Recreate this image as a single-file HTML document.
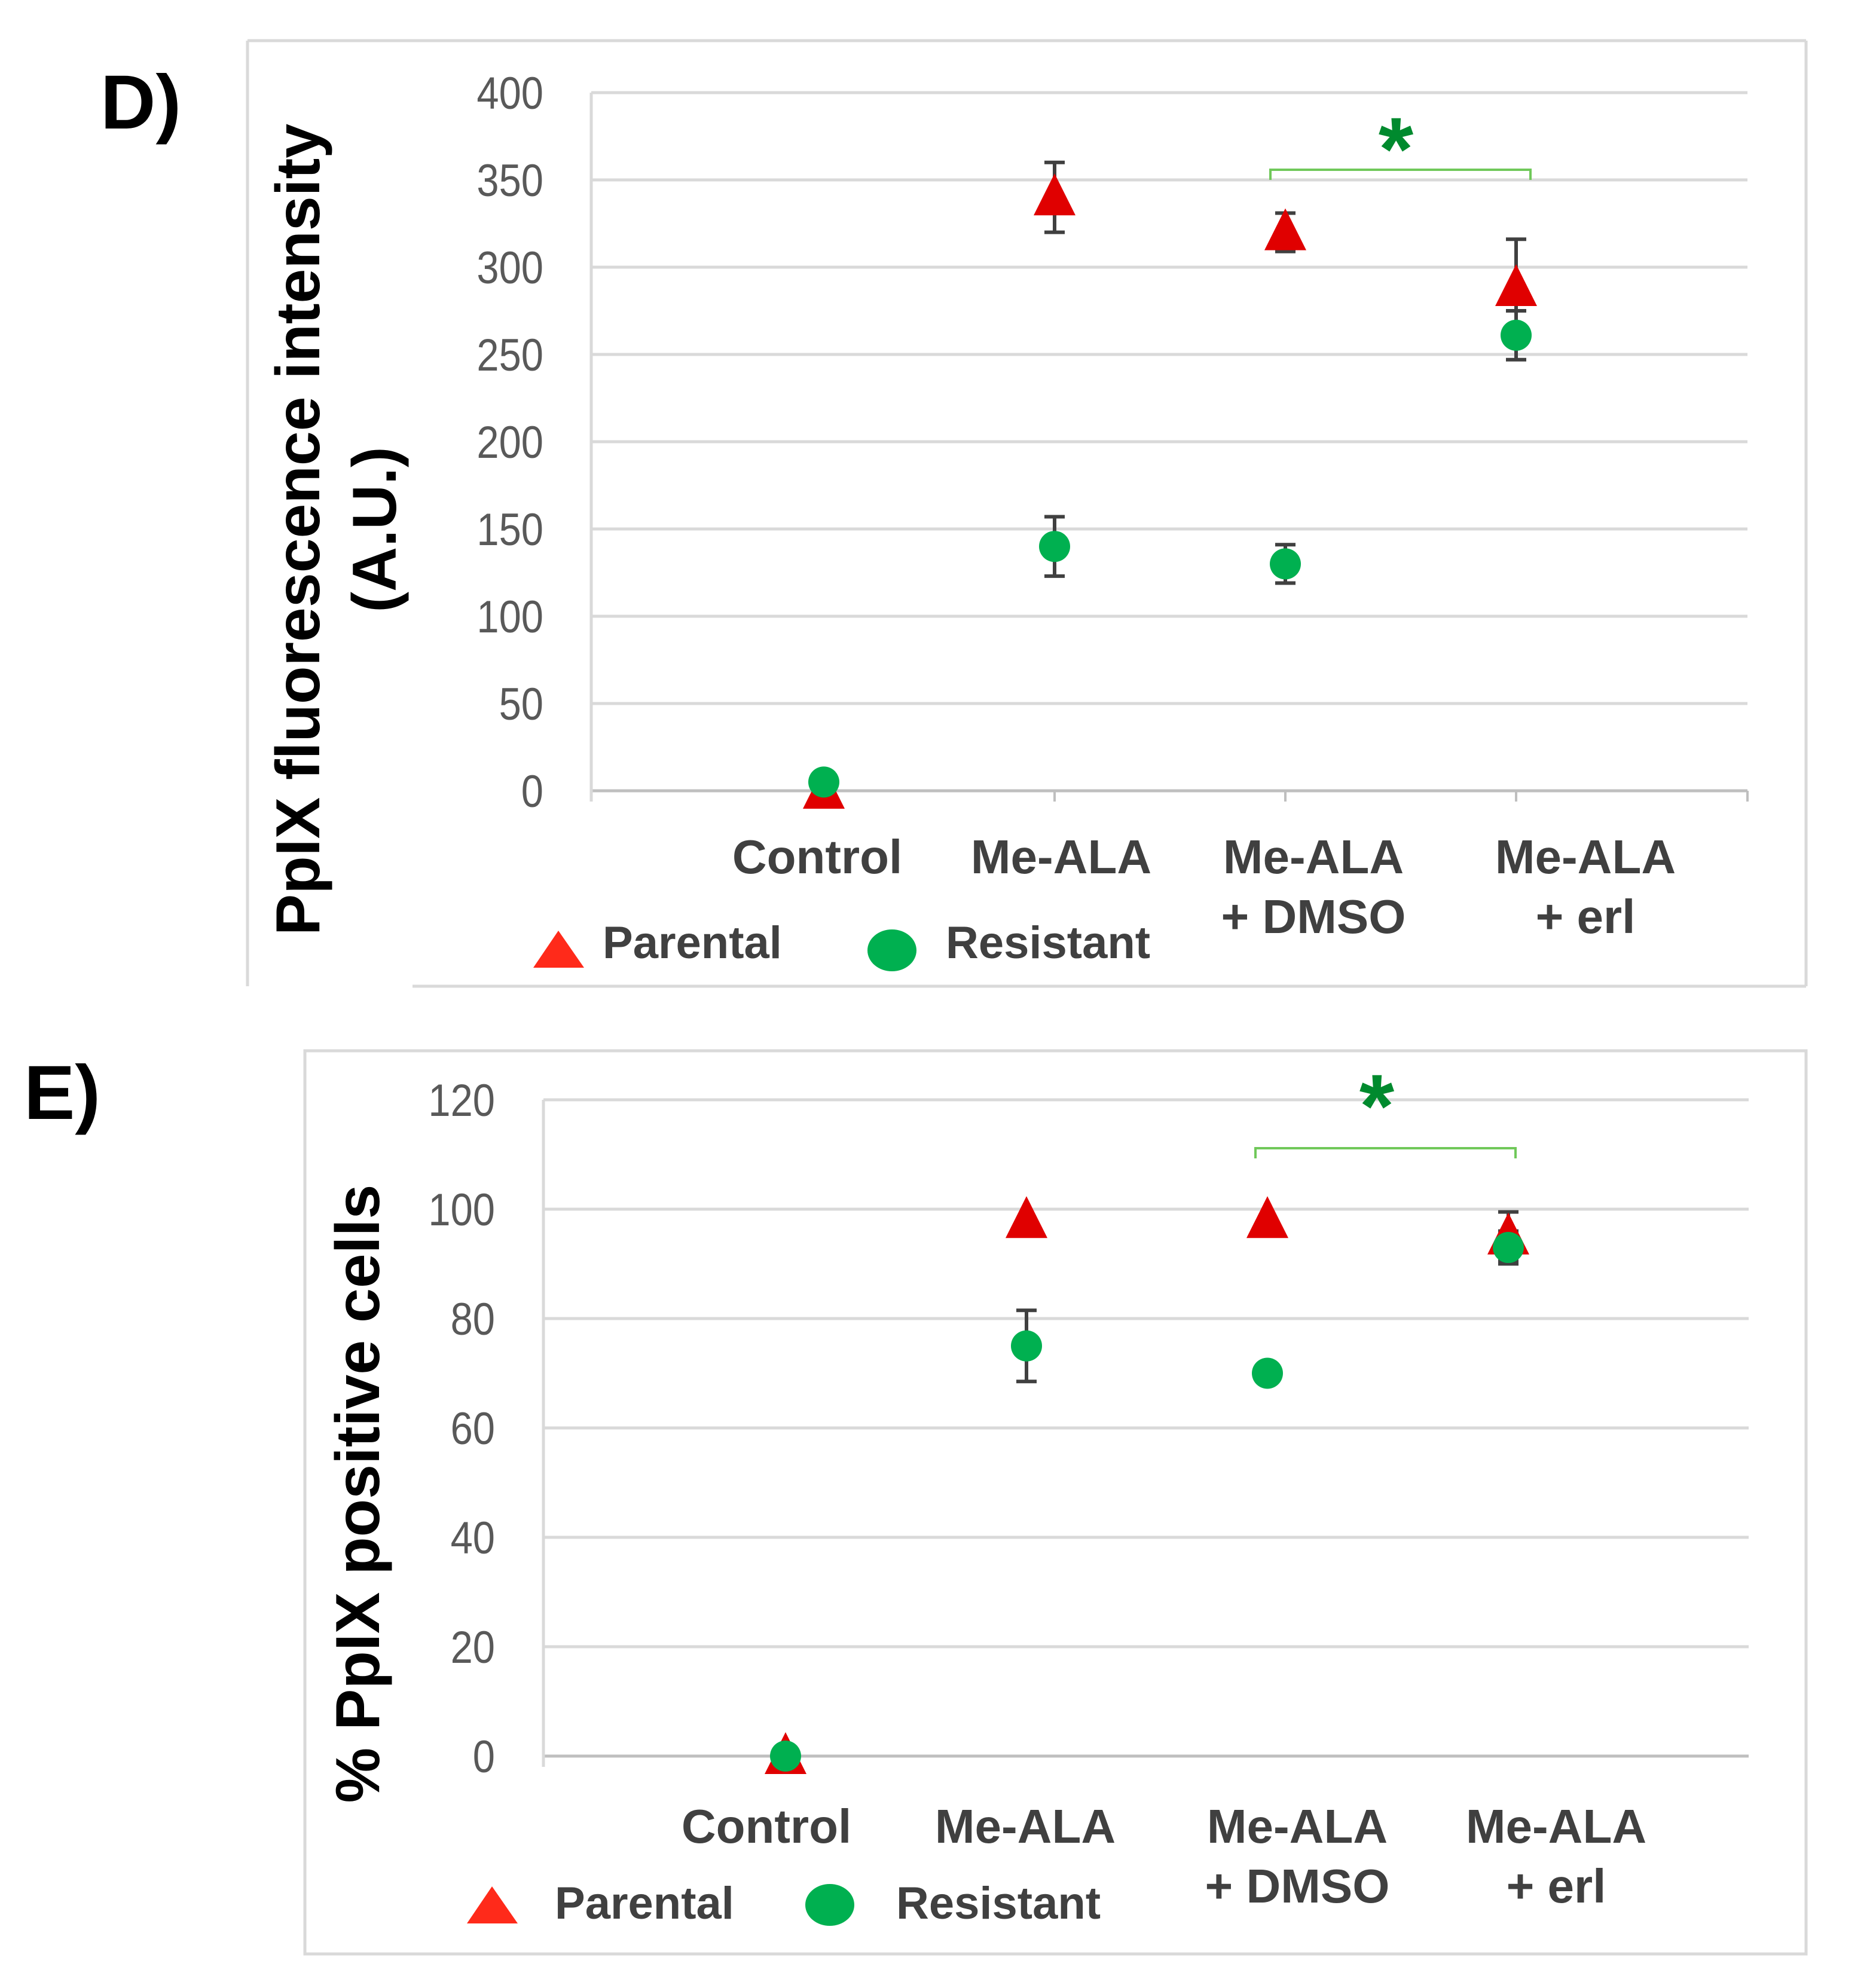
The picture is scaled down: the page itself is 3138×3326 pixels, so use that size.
<!DOCTYPE html>
<html><head><meta charset="utf-8"><style>
html,body{margin:0;padding:0;background:#fff;}
svg{display:block;}
text{font-family:"Liberation Sans",sans-serif;}
</style></head><body>
<svg id="fig" width="3138" height="3326" viewBox="0 0 3138 3326" xmlns="http://www.w3.org/2000/svg">
<line x1="414" y1="68" x2="3021" y2="68" stroke="#d9d9d9" stroke-width="5"/>
<line x1="414" y1="68" x2="414" y2="1650" stroke="#d9d9d9" stroke-width="5"/>
<line x1="3021" y1="68" x2="3021" y2="1650" stroke="#d9d9d9" stroke-width="5"/>
<line x1="690" y1="1650" x2="3021" y2="1650" stroke="#d9d9d9" stroke-width="5"/>
<rect x="510" y="1758" width="2511" height="1511" fill="none" stroke="#d9d9d9" stroke-width="5"/>
<text x="168" y="215" font-size="128" font-weight="bold" fill="#000">D)</text>
<text x="40" y="1872" font-size="128" font-weight="bold" fill="#000">E)</text>
<g id="chartD"></g>
<g id="chartE"></g>
</svg>
<script>
const categories = ["Control", "Me-ALA", "Me-ALA|+ DMSO", "Me-ALA|+ erl"];
const dParental = [0, 340, 320, 288];
const dParentalErr = [0, 20, 11, 28];
const dResistant = [5, 140, 130, 261];
const dResistantErr = [0, 17, 11, 14];
const dTicks = [0, 50, 100, 150, 200, 250, 300, 350, 400];
const eParental = [0, 98, 98, 95];
const eParentalErr = [0, 0, 0, 4.5];
const eResistant = [0, 75, 70, 93];
const eResistantErr = [0, 6.5, 0, 3];
const eTicks = [0, 20, 40, 60, 80, 100, 120];

const NS = "http://www.w3.org/2000/svg";
function mk(parent, tag, attrs, txt) {
  const el = document.createElementNS(NS, tag);
  for (const k in attrs) el.setAttribute(k, attrs[k]);
  if (txt !== undefined) el.textContent = txt;
  parent.appendChild(el);
  return el;
}

function drawChart(g, cfg) {
  const yScale = v => cfg.y0 - (v - cfg.ticks[0]) / (cfg.ticks[cfg.ticks.length-1] - cfg.ticks[0]) * (cfg.y0 - cfg.yTop);
  const xScale = i => cfg.catX0 + i * cfg.catStep;
  cfg.ticks.forEach((t, i) => {
    const y = yScale(t);
    const gl = mk(g, "line", {x1: cfg.axisX, x2: cfg.right, y1: y, y2: y, stroke: i === 0 ? "#bfbfbf" : "#d9d9d9", "stroke-width": 5});
    
    
    const tl = mk(g, "text", {x: 0, y: 0, "font-size": 76, fill: "#595959", "text-anchor": "end", transform: `translate(${cfg.tickRight},${y + 27}) scale(0.88,1)`}, String(t));
    
    
  });
  const ax = mk(g, "line", {x1: cfg.axisX, x2: cfg.axisX, y1: yScale(cfg.ticks[cfg.ticks.length-1]), y2: cfg.y0 + 18, stroke: "#d9d9d9", "stroke-width": 5});
  
  
  if (cfg.tickMarks) {
    for (let i = 1; i < categories.length; i++) {
      const tm = mk(g, "line", {x1: xScale(i), x2: xScale(i), y1: cfg.y0, y2: cfg.y0 + 18, stroke: "#bfbfbf", "stroke-width": 4});
      
      
    }
    const tr = mk(g, "line", {x1: cfg.right, x2: cfg.right, y1: cfg.y0, y2: cfg.y0 + 18, stroke: "#bfbfbf", "stroke-width": 4});
    
    
  }
  categories.forEach((c, i) => {
    const lines = c.split("|");
    lines.forEach((ln, j) => {
      const t = mk(g, "text", {x: cfg.labelX[i], y: cfg.labelY + j * cfg.labelGap, "font-size": 80, "font-weight": "bold", fill: "#404040", "text-anchor": "middle"}, ln);
      
      
    });
  });
  function errBar(x, v, e) {
    if (!e) return;
    const y1 = yScale(v + e), y2 = yScale(v - e);
    const l = mk(g, "path", {d: `M${x},${y1}V${y2}M${x-17},${y1}H${x+17}M${x-17},${y2}H${x+17}`, stroke: "#404040", "stroke-width": 6, fill: "none"});
    
    
  }
  cfg.par.forEach((v, i) => errBar(xScale(i), v, cfg.parErr[i]));
  cfg.res.forEach((v, i) => errBar(xScale(i), v, cfg.resErr[i]));
  cfg.par.forEach((v, i) => {
    const x = xScale(i), y = yScale(v);
    const p = mk(g, "polygon", {points: `${x},${y-40} ${x-35},${y+30} ${x+35},${y+30}`, fill: "#e00000"});
    
    
  });
  cfg.res.forEach((v, i) => {
    const x = xScale(i), y = yScale(v);
    const c = mk(g, "ellipse", {cx: x, cy: y, rx: 26, ry: 26, fill: "#00b050"});
    
    
  });
  const b = cfg.bracket;
  const br = mk(g, "path", {d: `M${b.x1},${b.y2}V${b.y}H${b.x2}V${b.y2}`, stroke: "#70c85a", "stroke-width": 4, fill: "none"});
  
  
  const st = mk(g, "text", {x: b.sx, y: b.sy + 72, "font-size": 150, "font-weight": "bold", fill: "#008a2e", "text-anchor": "middle"}, "*");
  
  
  const L = cfg.legend;
  const lt = mk(g, "polygon", {points: `${L.tx+42},${L.ty} ${L.tx},${L.ty+62} ${L.tx+85},${L.ty+62}`, fill: "#ff2a1a"});
  
  
  const ltx = mk(g, "text", {x: L.px, y: L.py, "font-size": 76, "font-weight": "bold", fill: "#404040"}, "Parental");
  
  
  const lc = mk(g, "ellipse", {cx: L.cx, cy: L.cy, rx: 41, ry: 35, fill: "#00b050"});
  
  
  const lcx = mk(g, "text", {x: L.rx, y: L.py, "font-size": 76, "font-weight": "bold", fill: "#404040"}, "Resistant");
  
  
  const yt = mk(g, "text", {x: 0, y: 0, "font-size": 104, "font-weight": "bold", fill: "#000", "text-anchor": "middle", transform: `translate(${cfg.title.x},${cfg.title.y}) rotate(-90)`}, cfg.title.text);
  
  
  if (cfg.title.sub) {
    const ys = mk(g, "text", {x: 0, y: 0, "font-size": 104, "font-weight": "bold", fill: "#000", "text-anchor": "middle", transform: `translate(${cfg.title.subX},${cfg.title.y}) rotate(-90)`}, cfg.title.sub);
    
    
  }
}

drawChart(document.getElementById("chartD"), {
  ticks: dTicks, y0: 1323, yTop: 155, axisX: 989, right: 2923, tickRight: 909, tickMarks: true,
  catX0: 1378, catStep: 386, labelX: [1367, 1775, 2197, 2652], labelY: 1461, labelGap: 100,
  par: dParental, parErr: dParentalErr, res: dResistant, resErr: dResistantErr,
  bracket: {x1: 2125, x2: 2560, y: 284, y2: 301, sx: 2335, sy: 229},
  legend: {tx: 892, ty: 1557, px: 1008, py: 1603, cx: 1492, cy: 1590, rx: 1582},
  title: {x: 534, y: 886, text: "PpIX fluorescence intensity", sub: "(A.U.)", subX: 662}
});
drawChart(document.getElementById("chartE"), {
  ticks: eTicks, y0: 2938, yTop: 1840, axisX: 909, right: 2925, tickRight: 828, tickMarks: false,
  catX0: 1314, catStep: 403, labelX: [1282, 1715, 2170, 2603], labelY: 3083, labelGap: 100,
  par: eParental, parErr: eParentalErr, res: eResistant, resErr: eResistantErr,
  bracket: {x1: 2100, x2: 2535, y: 1921, y2: 1938, sx: 2303, sy: 1830},
  legend: {tx: 781, ty: 3156, px: 928, py: 3210, cx: 1388, cy: 3187, rx: 1499},
  title: {x: 634, y: 2499, text: "% PpIX positive cells"}
});
</script>
</body></html>
